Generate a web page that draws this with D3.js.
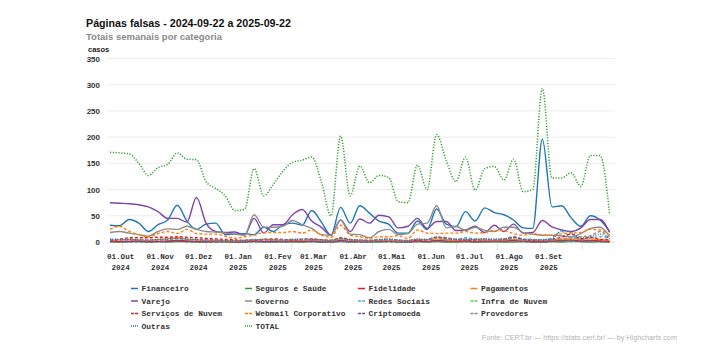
<!DOCTYPE html>
<html><head><meta charset="utf-8">
<script src="https://cdn.jsdelivr.net/npm/d3@7"></script>
<style>body{margin:0;background:#fff}svg{display:block}</style>
</head><body>
<svg id="c" width="702" height="347"></svg>
<script>
// ---- data ----
const firstWeek = new Date(2024, 8, 22);
const lastWeek = new Date(2025, 8, 22);
const weeks = d3.timeWeek.range(firstWeek, d3.timeDay.offset(lastWeek, 1));
const yTicks = [0, 50, 100, 150, 200, 250, 300, 350];

const financeiro = [32,31,43,36,20,33,42,70,40,24,34,36,14,15,16,14,28,20,33,36,32,60,38,13,66,36,69,55,40,34,17,17,40,24,63,34,29,58,40,65,56,52,42,27,26,196,67,69,46,30,50,42,20];
const segurosSaude = [1,0,1,1,0,1,0,1,1,0,0,1,0,0,0,1,0,0,1,0,0,1,0,0,1,0,1,0,0,1,0,0,1,0,1,0,0,1,0,0,1,0,0,1,0,0,1,0,2,1,0,1,0];
const fidelidade = [2,1,1,2,1,1,2,3,2,1,1,1,1,0,1,2,1,1,1,2,1,2,1,1,3,1,1,1,2,2,1,1,2,1,3,2,1,2,1,2,1,2,3,2,1,1,2,3,4,2,3,2,1];
const pagamentos = [3,4,5,4,3,5,6,8,5,4,3,3,2,2,3,4,5,4,3,4,3,5,4,3,6,4,3,2,3,3,2,2,5,4,6,4,3,4,5,4,3,4,5,3,4,3,4,5,6,5,6,5,3];
const varejo = [75,74,73,71,67,58,45,45,38,85,36,20,18,19,13,45,17,33,33,52,62,40,28,13,42,20,44,36,51,48,27,30,45,26,39,39,22,23,30,18,32,20,34,17,18,41,29,23,20,27,43,43,18];
const governo = [18,20,17,14,11,20,25,24,30,24,20,19,17,15,13,52,28,28,30,41,33,26,14,13,42,15,14,8,20,24,14,16,34,36,69,27,30,22,28,22,20,28,28,18,15,13,13,12,10,16,26,28,10];
const redesSociais = [5,4,4,3,3,4,5,6,5,4,3,3,2,2,2,3,4,3,3,4,5,4,3,2,5,3,3,2,3,4,3,2,4,5,8,6,5,8,6,5,4,6,10,6,5,4,8,20,10,6,8,10,6];
const infraNuvem = [0,1,0,0,1,0,1,1,0,0,1,0,0,0,1,0,0,1,0,0,1,0,0,1,1,0,0,0,1,0,0,1,0,0,1,1,0,0,1,0,0,1,0,1,0,0,1,1,0,1,1,0,0];
const servicosNuvem = [3,5,8,8,8,9,9,10,9,8,7,6,5,4,3,3,5,6,5,4,5,6,4,3,8,5,3,3,4,5,3,2,3,4,9,8,5,4,3,5,4,5,9,5,3,2,5,9,15,6,9,5,4];
const webmail = [24,30,20,14,10,16,20,16,24,16,15,15,11,7,10,13,18,18,18,20,17,23,13,9,32,13,10,7,10,10,12,7,23,17,16,17,17,20,17,18,22,22,16,13,16,13,13,16,17,18,24,23,13];
const criptomoeda = [1,1,1,1,0,1,1,2,1,1,0,0,1,0,0,1,1,1,0,1,1,1,0,0,2,1,0,0,1,1,0,0,1,1,2,1,1,1,0,1,1,1,2,1,0,0,1,2,3,1,2,1,0];
const provedores = [4,5,5,4,3,4,5,6,5,4,4,3,3,2,3,4,5,4,4,5,4,5,3,3,6,4,3,3,4,5,3,3,5,4,8,6,5,5,4,5,4,6,5,4,4,3,4,6,8,10,12,20,5];
const outras = [6,5,5,4,4,5,6,7,6,5,4,4,3,3,3,5,4,4,4,5,6,5,4,3,7,4,4,3,5,6,4,3,6,5,10,6,5,6,5,7,6,6,8,5,4,5,6,22,18,8,10,15,6];
const total = [171,170,168,150,127,142,148,170,158,157,115,102,88,60,62,140,88,110,135,152,156,162,115,50,202,88,145,113,127,123,77,75,147,100,205,155,115,162,99,140,144,118,158,96,100,293,122,122,132,106,165,165,52];

const seriesNames = ["Financeiro","Seguros e Saúde","Fidelidade","Pagamentos","Varejo","Governo","Redes Sociais","Infra de Nuvem","Serviços de Nuvem","Webmail Corporativo","Criptomoeda","Provedores","Outras","TOTAL"];
const seriesValues = [financeiro,segurosSaude,fidelidade,pagamentos,varejo,governo,redesSociais,infraNuvem,servicosNuvem,webmail,criptomoeda,provedores,outras,total];

// ---- styles ----
const colors = ["#1f77b4","#2ca02c","#e31a1c","#ff7f0e","#7e44a8","#8c8c8c","#5fa8dc","#6cc46c","#e31a1c","#ff7f0e","#7e44a8","#8c8c8c","#1f77b4","#2ca02c"];
const dashes = [null,null,null,null,null,null,"3,2","3,2","3,2","3,2","3,2","3,2","1,1.5","1.2,1.6"];

const svg = d3.select("#c");
const M = {left:107, right:615, top:58.5, bottom:242};

const x = d3.scaleTime().domain([firstWeek, lastWeek]).range([110, 611]);
const xLab = d3.scaleTime().domain([firstWeek, lastWeek]).range([109.1, 575.6]);
const y = d3.scaleLinear().domain([0, 350]).range([M.bottom, M.top]);

// grid
svg.append("g").selectAll("line").data(yTicks).join("line")
  .attr("x1", M.left).attr("x2", M.right)
  .attr("y1", d => y(d)).attr("y2", d => y(d))
  .attr("stroke", "#ececec").attr("stroke-width", 1);

// y labels
svg.append("g").selectAll("text").data(yTicks).join("text")
  .attr("x", 100).attr("y", d => y(d) + 3)
  .attr("text-anchor", "end")
  .attr("font-family", "Liberation Sans, Arial, sans-serif")
  .attr("font-size", 8).attr("font-weight", "bold").attr("fill", "#333")
  .text(d => d);

svg.append("text").attr("x", 88).attr("y", 52)
  .attr("font-family", "Liberation Sans, Arial, sans-serif")
  .attr("font-size", 7.5).attr("font-weight", "bold").attr("fill", "#222")
  .text("casos");

// x axis line + ticks
const monthTicks = x.ticks(d3.timeMonth.every(1)).filter(d => d > firstWeek);
svg.append("line").attr("x1", M.left).attr("x2", M.right).attr("y1", M.bottom + 0.5).attr("y2", M.bottom + 0.5)
  .attr("stroke", "#dfe3ea");
svg.append("g").selectAll("line").data(monthTicks).join("line")
  .attr("x1", d => Math.round(x(d)) + 0.5).attr("x2", d => Math.round(x(d)) + 0.5)
  .attr("y1", M.bottom).attr("y2", M.bottom + 8)
  .attr("stroke", "#e3e6ec");

const ptMonths = ["Jan","Fev","Mar","Abr","Mai","Jun","Jul","Ago","Set","Out","Nov","Dez"];
const xl = svg.append("g").selectAll("text").data(monthTicks).join("text")
  .attr("text-anchor", "middle")
  .attr("font-family", "Courier New, Liberation Mono, monospace")
  .attr("font-size", 7.6).attr("font-weight", "bold").attr("fill", "#333");
xl.append("tspan").attr("x", d => xLab(d)).attr("y", 259).text(d => "01." + ptMonths[d.getMonth()]);
xl.append("tspan").attr("x", d => xLab(d)).attr("y", 269.5).text(d => d.getFullYear());

// lines
const line = d3.line().x((d, i) => x(weeks[i])).y(d => y(d)).curve(d3.curveMonotoneX);
const g = svg.append("g");
seriesValues.forEach((vals, k) => {
  g.append("path").attr("d", line(vals))
    .attr("fill", "none").attr("stroke", colors[k])
    .attr("stroke-width", k === 13 ? 1.5 : 1.4)
    .attr("stroke-dasharray", dashes[k])
    .attr("stroke-linejoin", "round");
});

// legend
const colX = [131, 245, 358, 470.5];
const rowY = [288.5, 301, 313.5, 326];
const leg = svg.append("g").selectAll("g").data(seriesNames).join("g")
  .attr("transform", (d, i) => `translate(${colX[i % 4]},${rowY[Math.floor(i / 4)]})`);
leg.append("line").attr("x1", 0).attr("x2", 7).attr("y1", 0).attr("y2", 0)
  .attr("stroke", (d, i) => colors[i]).attr("stroke-width", 1.5)
  .attr("stroke-dasharray", (d, i) => dashes[i] ? (i >= 12 ? "1,1" : "3,1") : null);
leg.append("text").attr("x", 10.5).attr("y", 2.8)
  .attr("font-family", "Courier New, Liberation Mono, monospace")
  .attr("font-size", 7.9).attr("font-weight", "bold").attr("fill", "#333")
  .text(d => d);

// titles
svg.append("text").attr("x", 86).attr("y", 27)
  .attr("font-family", "Liberation Sans, Arial, sans-serif")
  .attr("font-size", 10.7).attr("font-weight", "bold").attr("fill", "#111")
  .text("Páginas falsas - 2024-09-22 a 2025-09-22");
svg.append("text").attr("x", 86).attr("y", 40)
  .attr("font-family", "Liberation Sans, Arial, sans-serif")
  .attr("font-size", 9.5).attr("font-weight", "bold").attr("fill", "#8a8a8a")
  .text("Totais semanais por categoria");

// credits
svg.append("text").attr("x", 677).attr("y", 339.5).attr("text-anchor", "end")
  .attr("font-family", "Liberation Sans, Arial, sans-serif")
  .attr("font-size", 7.3).attr("fill", "#b4b4b4")
  .text("Fonte: CERT.br — https://stats.cert.br/ — by Highcharts.com");
</script>
</body></html>
